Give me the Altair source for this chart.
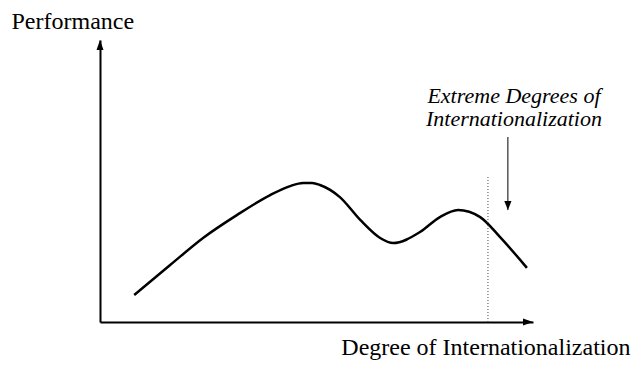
import altair as alt
import pandas as pd

# Curve (degree of internationalization vs performance)
curve_x = [7.9, 16.2, 23.8, 31.6, 39.3, 43.9, 46.9, 49.0, 50.8, 55.4, 60.1,
           64.7, 67.7, 73.9, 78.5, 82.7, 87.8, 92.4, 98.6]
curve_y = [9.6, 20.2, 29.8, 37.9, 45.0, 48.2, 49.3, 49.3, 48.6, 44.3, 36.2,
           29.8, 28.0, 31.9, 37.2, 39.7, 37.2, 30.1, 19.2]

threshold_x = [89.6]
threshold_top = [51.4]
arrow_x = [94.2]
arrow_from = [65.6]
arrow_to = [39.7]
note_lines = ["Extreme Degrees of", "Internationalization"]
note_x = [95.6]
note_y = [77.8]

SERIF = "Liberation Serif"

curve_df = pd.DataFrame({"x": curve_x, "y": curve_y})
xs = alt.Scale(domain=[0, 100], nice=False, zero=False)
ys = alt.Scale(domain=[0, 100], nice=False, zero=False)

base_x = alt.X("x:Q", scale=xs, axis=alt.Axis(
    title="Degree of Internationalization", labels=False, ticks=False, grid=False,
    domainColor="black", domainWidth=2, titleX=530, titleY=32, titleAlign="right",
    titleBaseline="alphabetic", titleFont=SERIF, titleFontSize=24,
    titleFontWeight="normal", titleColor="black"))
base_y = alt.Y("y:Q", scale=ys, axis=alt.Axis(
    title="Performance", labels=False, ticks=False, grid=False,
    domainColor="black", domainWidth=2, titleAngle=0, titleX=-89, titleY=-12,
    titleAlign="left", titleBaseline="alphabetic", titleFont=SERIF,
    titleFontSize=24, titleFontWeight="normal", titleColor="black"))

curve = alt.Chart(curve_df).mark_line(
    interpolate="monotone", color="black", strokeWidth=2.5
).encode(x=base_x, y=base_y)

thr_df = pd.DataFrame({"x": threshold_x, "y": [0], "y2": threshold_top})
thr = alt.Chart(thr_df).mark_rule(
    color="#444444", strokeWidth=1, strokeDash=[1, 2]
).encode(x=alt.X("x:Q", scale=xs), y=alt.Y("y:Q", scale=ys), y2="y2:Q")

arr_df = pd.DataFrame({"x": arrow_x, "y": arrow_from, "y2": arrow_to})
arr_line = alt.Chart(arr_df).mark_rule(color="black", strokeWidth=1).encode(
    x=alt.X("x:Q", scale=xs), y=alt.Y("y:Q", scale=ys), y2="y2:Q")
arr_head = alt.Chart(arr_df).mark_point(
    shape="M0,0L-0.4,-1L0.4,-1Z", size=324, filled=True, color="black", opacity=1
).encode(x=alt.X("x:Q", scale=xs), y=alt.Y("y2:Q", scale=ys))

yhead = alt.Chart(pd.DataFrame({"x": [0], "y": [100]})).mark_point(
    shape="M0,0L-0.35,1L0.35,1Z", size=400, filled=True, color="black", opacity=1
).encode(x=alt.X("x:Q", scale=xs), y=alt.Y("y:Q", scale=ys))
xhead = alt.Chart(pd.DataFrame({"x": [100], "y": [0]})).mark_point(
    shape="M0,0L-1,-0.35L-1,0.35Z", size=400, filled=True, color="black", opacity=1
).encode(x=alt.X("x:Q", scale=xs), y=alt.Y("y:Q", scale=ys))

note_df = pd.DataFrame({"x": note_x, "y": note_y, "t": [note_lines]})
note = alt.Chart(note_df).mark_text(
    font=SERIF, fontStyle="italic", fontSize=22, align="center",
    baseline="alphabetic", lineHeight=23, color="black"
).encode(x=alt.X("x:Q", scale=xs), y=alt.Y("y:Q", scale=ys), text="t")

chart = alt.layer(curve, thr, arr_line, arr_head, yhead, xhead, note).properties(
    width=433, height=282,
    autosize=alt.AutoSizeParams(type="none"),
    padding={"left": 92, "top": 32, "right": 98, "bottom": 38},
    background="white",
).configure_view(stroke=None)

chart.save("out.html", embed_options={"renderer": "svg", "actions": False})
